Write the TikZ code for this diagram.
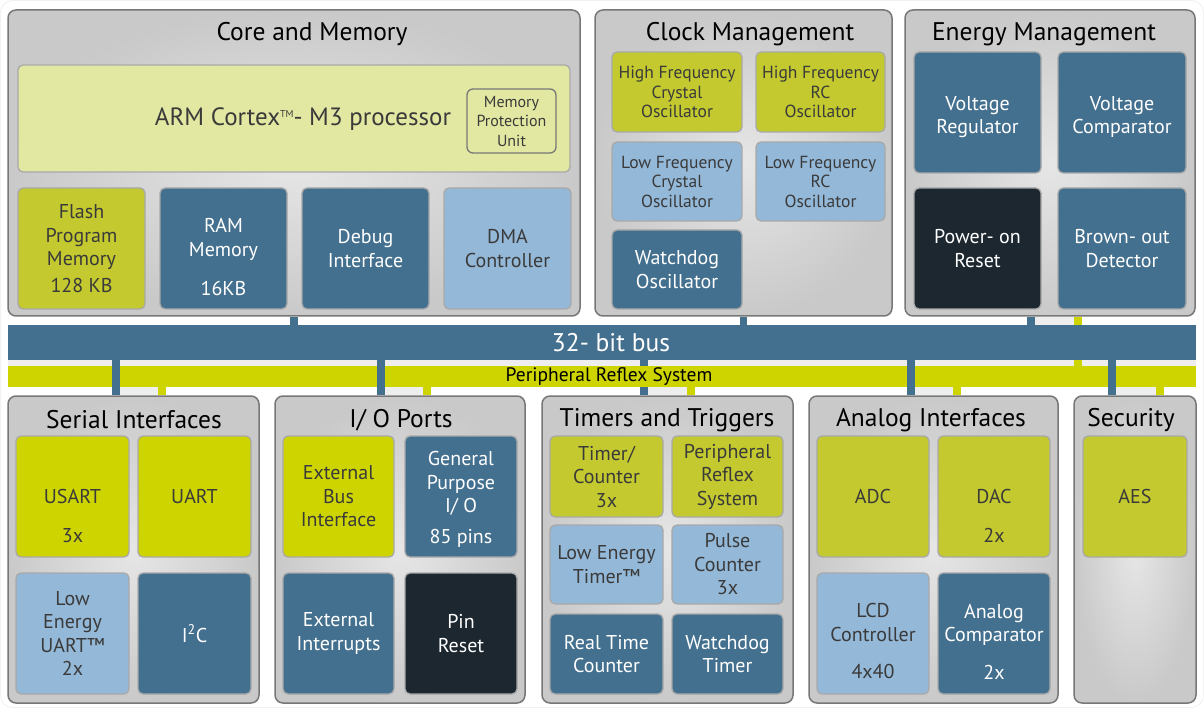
\documentclass[tikz,border=0pt]{standalone}
\usepackage{fontspec}
\setmainfont{PT Sans}
\usetikzlibrary{positioning}

\definecolor{busblue}{HTML}{44708F}
\definecolor{skyblue}{HTML}{94B8D8}
\definecolor{olivegr}{HTML}{C3C92E}
\definecolor{limegr}{HTML}{CDD400}
\definecolor{darkbox}{HTML}{1C2730}
\definecolor{armfill}{HTML}{E2E8A2}
\definecolor{grpin}{HTML}{E6E6E6}
\definecolor{grpout}{HTML}{C9C9C9}
\definecolor{grpline}{HTML}{777777}
\definecolor{blkline}{HTML}{A9A9A9}
\definecolor{gapgray}{HTML}{EEEEEE}
\definecolor{txtdark}{HTML}{3A3A3A}

\begin{document}
\begin{tikzpicture}[x=1pt, y=-1pt,
  grp/.style={draw=grpline, line width=1.5pt, rounded corners=8pt, inner color=grpin, outer color=grpout, inner sep=0pt},
  ttl/.style={font=\fontsize{25.5}{29}\selectfont, text=black, inner sep=0pt},
  blk/.style={draw=blkline, line width=1.3pt, rounded corners=5pt, inner sep=0pt, align=center, font=\fontsize{20}{23.5}\selectfont},
  clk/.style={font=\fontsize{17.5}{19.5}\selectfont},
  dbbox/.style={blk, fill=busblue, text=white},
  lbbox/.style={blk, fill=skyblue, text=txtdark},
  olbox/.style={blk, fill=olivegr, text=txtdark},
  lmbox/.style={blk, fill=limegr, text=txtdark},
  bkbox/.style={blk, fill=darkbox, text=white},
  subtxt/.style={font=\fontsize{20}{23.5}\selectfont, inner sep=0pt},
  busln/.style={draw=busblue, line width=7.5pt},
  prsln/.style={draw=limegr, line width=7.5pt}]

\useasboundingbox (0,0) rectangle (1204,708);
\draw[gapgray!80!black!20, line width=1pt, rounded corners=12pt] (0.5,0.5) rectangle (1203.5,707.5);

% top row groups
\node[grp, minimum width=572pt, minimum height=306pt] (core) at (294,163) {};
\node[grp, minimum width=297pt, minimum height=306pt] (clock) at (743.5,163) {};
\node[grp, minimum width=290pt, minimum height=306pt] (energy) at (1050,163) {};
\node[ttl] (coreT) at (312,34) {Core and Memory};
\node[ttl] (clockT) at (750,34) {Clock Management};
\node[ttl] (energyT) at (1044,34) {Energy Management};

% core and memory
\node[blk, fill=armfill, minimum width=552pt, minimum height=107pt] (arm) at (294,118.5) {};
\node[font=\fontsize{25}{29}\selectfont, text=txtdark, inner sep=0pt] (armT) at (303,119) {ARM Cortex\raisebox{0.6ex}{\fontsize{10}{10}\selectfont TM}- M3 processor};
\node[blk, draw=grpline, fill=armfill, text=txtdark, font=\fontsize{16}{19.5}\selectfont, rounded corners=6pt, minimum width=89pt, minimum height=64pt] (mpu) at (511.5,121) {Memory\\Protection\\Unit};
\node[olbox, minimum width=127pt, minimum height=121pt] (flash) at (81.5,248.5) {Flash\\Program\\Memory\\[3pt]128 KB};
\node[dbbox, minimum width=127pt, minimum height=121pt] (ram) at (223.5,248.5) {\mbox{}\\[8pt]RAM\\Memory\\[16pt]16KB};
\node[dbbox, minimum width=127pt, minimum height=121pt] (debug) at (365.5,248.5) {Debug\\Interface};
\node[lbbox, minimum width=127pt, minimum height=121pt] (dma) at (507.5,248.5) {DMA\\Controller};

% clock management
\node[olbox, clk, minimum width=130pt, minimum height=80pt] (hfxo) at (677,92) {High Frequency\\Crystal\\Oscillator};
\node[olbox, clk, minimum width=129pt, minimum height=80pt] (hfrco) at (820.5,92) {High Frequency\\RC\\Oscillator};
\node[lbbox, clk, minimum width=130pt, minimum height=79pt] (lfxo) at (677,181.5) {Low Frequency\\Crystal\\Oscillator};
\node[lbbox, clk, minimum width=129pt, minimum height=79pt] (lfrco) at (820.5,181.5) {Low Frequency\\RC\\Oscillator};
\node[dbbox, minimum width=130pt, minimum height=79pt] (wdosc) at (677,269.5) {Watchdog\\Oscillator};

% energy management
\node[dbbox, minimum width=127pt, minimum height=121pt] (vreg) at (977.5,112.5) {\mbox{}\\Voltage\\Regulator};
\node[dbbox, minimum width=128pt, minimum height=121pt] (vcmp) at (1122,112.5) {\mbox{}\\Voltage\\Comparator};
\node[bkbox, minimum width=127pt, minimum height=121pt] (por) at (977.5,248.5) {Power- on\\Reset};
\node[dbbox, minimum width=128pt, minimum height=121pt] (bod) at (1122,248.5) {Brown- out\\Detector};

% bottom row groups
\node[grp, minimum width=251pt, minimum height=307pt] (serial) at (133.5,549.5) {};
\node[grp, minimum width=250pt, minimum height=307pt] (io) at (400,549.5) {};
\node[grp, minimum width=251pt, minimum height=307pt] (timers) at (667.5,549.5) {};
\node[grp, minimum width=249pt, minimum height=307pt] (analog) at (933.5,549.5) {};
\node[grp, minimum width=122pt, minimum height=307pt] (security) at (1135,549.5) {};
\node[ttl] (serialT) at (134,420) {Serial Interfaces};
\node[ttl] (ioT) at (401,420) {I/ O Ports};
\node[ttl] (timersT) at (667,420) {Timers and Triggers};
\node[ttl] (analogT) at (931,420) {Analog Interfaces};
\node[ttl] (securityT) at (1131,420) {Security};

% serial interfaces
\node[lmbox, minimum width=113pt, minimum height=121pt] (usart) at (72.5,496.5) {USART};
\node[subtxt, text=txtdark, above=15pt of usart.south] (usartN) {3x};
\node[lmbox, minimum width=113pt, minimum height=121pt] (uart) at (194.5,496.5) {UART};
\node[lbbox, minimum width=113pt, minimum height=121pt] (leuart) at (72.5,633.5) {Low\\Energy\\UART™\\2x};
\node[dbbox, minimum width=113pt, minimum height=121pt] (i2c) at (194.5,633.5) {I\textsuperscript{2}C};

% i/o ports
\node[lmbox, minimum width=111pt, minimum height=121pt] (ebi) at (338.5,496.5) {External\\Bus\\Interface};
\node[dbbox, minimum width=112pt, minimum height=121pt] (gpio) at (461,496.5) {\mbox{}\\[-4pt]General\\Purpose\\I/ O\\[7pt]85 pins};
\node[dbbox, minimum width=111pt, minimum height=121pt] (extint) at (338.5,633.5) {External\\Interrupts};
\node[bkbox, minimum width=112pt, minimum height=121pt] (pinrst) at (461,633.5) {Pin\\Reset};

% timers and triggers
\node[olbox, minimum width=113pt, minimum height=81pt] (timer) at (606.5,476.5) {Timer/\\Counter\\3x};
\node[olbox, minimum width=111pt, minimum height=81pt] (prsblk) at (727.5,476.5) {Peripheral\\Reflex\\System};
\node[lbbox, minimum width=113pt, minimum height=79pt] (letimer) at (606.5,564.5) {Low Energy\\Timer™};
\node[lbbox, minimum width=111pt, minimum height=79pt] (pcnt) at (727.5,564.5) {Pulse\\Counter\\3x};
\node[dbbox, minimum width=113pt, minimum height=80pt] (rtc) at (606.5,654) {Real Time\\Counter};
\node[dbbox, minimum width=111pt, minimum height=80pt] (wdog) at (727.5,654) {Watchdog\\Timer};

% analog interfaces
\node[olbox, minimum width=112pt, minimum height=121pt] (adc) at (873,496.5) {ADC};
\node[olbox, minimum width=112pt, minimum height=121pt] (dac) at (994,496.5) {DAC};
\node[subtxt, text=txtdark, above=15pt of dac.south] (dacN) {2x};
\node[lbbox, minimum width=112pt, minimum height=121pt] (lcd) at (873,633.5) {\mbox{}\\[6.5pt]LCD\\Controller\\[14pt]4x40};
\node[dbbox, minimum width=112pt, minimum height=121pt] (acmp) at (994,633.5) {\mbox{}\\[6.5pt]Analog\\Comparator\\[14pt]2x};

% security
\node[olbox, minimum width=104pt, minimum height=121pt] (aes) at (1135,496.5) {AES};

% light gaps between the stubs
\fill[gapgray] (8,360) rectangle (1196,366);
\fill[gapgray] ([xshift=-19pt]energy.south) rectangle ([xshift=28pt]energy.south |- 0,325);
\foreach \g/\b/\y in {serial/-17.5/28.5, io/-19/27, timers/-23.5/23.5, analog/-22.5/23.5, security/-23/25}
  \fill[gapgray] ([xshift=\b pt]\g.north |- 0,387) rectangle ([xshift=\y pt]\g.north);

% peripheral reflex system stub behind the bus
\draw[prsln] ([xshift=28pt]energy.south) -- (1078,366);

% buses
\node[fill=busblue, text=white, minimum width=1188pt, minimum height=35pt, inner sep=0pt, font=\fontsize{25.5}{29}\selectfont] (bus) at (602,342.5) {\hspace{18pt}32- bit bus};
\node[fill=limegr, minimum width=1188pt, minimum height=21pt, inner sep=0pt] (prs) at (602,376.5) {};

% stubs to the 32-bit bus
\draw[busln] (core.south) -- (core.south |- bus.north);
\draw[busln] (clock.south) -- (clock.south |- bus.north);
\draw[busln] ([xshift=-19pt]energy.south) -- ([xshift=-19pt]energy.south |- bus.north);
\foreach \g/\b in {serial/-17.5, io/-19, timers/-23.5, analog/-22.5, security/-23}
  \draw[busln] ([xshift=\b pt]\g.north) -- ([xshift=\b pt]\g.north |- bus.south);

% stubs to the peripheral reflex system
\foreach \g/\y in {serial/28.5, io/27, timers/23.5, analog/23.5, security/25}
  \draw[prsln] ([xshift=\y pt]\g.north) -- ([xshift=\y pt]\g.north |- prs.south);

\node[fill=limegr, text=black, inner xsep=3pt, inner ysep=0pt, minimum height=21pt, font=\fontsize{19.5}{21}\selectfont] (prsT) at (609,376.5) {Peripheral Reflex System};
\end{tikzpicture}
\end{document}
